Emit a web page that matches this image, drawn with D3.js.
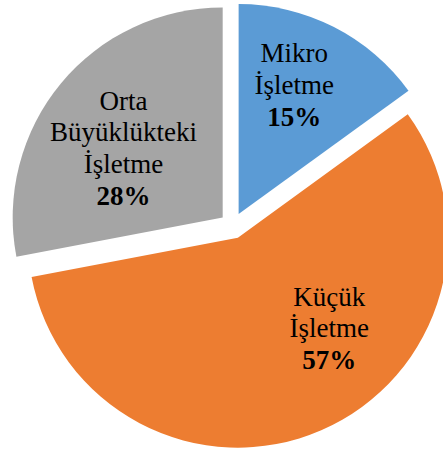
<!DOCTYPE html>
<html>
<head>
<meta charset="utf-8">
<script src="https://cdn.jsdelivr.net/npm/d3@7"></script>
<style>
  body { margin: 0; background: #fff; }
  svg { display: block; }
</style>
</head>
<body>
<div id="chart"></div>
<script>
// Data
const categories = [["Mikro", "İşletme"], ["Küçük", "İşletme"], ["Orta", "Büyüklükteki", "İşletme"]];
const shares = [15, 57, 28];
const percentLabels = ["15%", "57%", "28%"];
const colors = ["#5B9BD5", "#ED7D31", "#A5A5A5"];

const svgWidth = 443;
const svgHeight = 453;

// pie geometry
const cx = 232.7, cy = 225.7;
const radius = 210;
const explode = 13;
const lineHeight = 31.7;
const fontSize = 27;

// label spots measured from each slice's apex: angle in degrees from 12 o'clock, distance as share of radius
const labelSpots = [
    { angle: 23.3, dist: 0.669 },
    { angle: 134.8, dist: 0.614 },
    { angle: 304.9, dist: 0.576 }
];

const svg = d3.select('#chart')
    .append('svg')
    .attr('width', svgWidth)
    .attr('height', svgHeight);

const chartGroup = svg.append('g')
    .attr('transform', `translate(${cx}, ${cy})`);

const pie = d3.pie()
    .sort(null)
    .startAngle(0)
    .endAngle(2 * Math.PI)
    .value(d => d);

const arc = d3.arc()
    .innerRadius(0)
    .outerRadius(radius);

const arcs = pie(shares);

const slices = chartGroup.selectAll('g.slice')
    .data(arcs)
    .enter()
    .append('g')
    .classed('slice', true)
    .attr('transform', d => {
        const mid = (d.startAngle + d.endAngle) / 2;
        return `translate(${Math.sin(mid) * explode}, ${-Math.cos(mid) * explode})`;
    });

slices.append('path')
    .attr('d', arc)
    .attr('fill', (d, i) => colors[i]);

// labels
slices.each(function (d, i) {
    const spot = labelSpots[i];
    const a = spot.angle * Math.PI / 180;
    const lx = Math.sin(a) * spot.dist * radius;
    const ly = -Math.cos(a) * spot.dist * radius;
    const lines = categories[i].concat([percentLabels[i]]);
    const n = lines.length;
    const y0 = ly - (n - 1) * lineHeight / 2 + fontSize * 0.33;

    const text = d3.select(this).append('text')
        .attr('text-anchor', 'middle')
        .attr('font-family', '"Liberation Serif", "Times New Roman", serif')
        .attr('font-size', fontSize + 'px')
        .attr('fill', '#000');

    lines.forEach((line, j) => {
        text.append('tspan')
            .attr('x', lx)
            .attr('y', y0 + j * lineHeight)
            .attr('font-weight', j === n - 1 ? 'bold' : 'normal')
            .text(line);
    });
});
</script>
</body>
</html>
